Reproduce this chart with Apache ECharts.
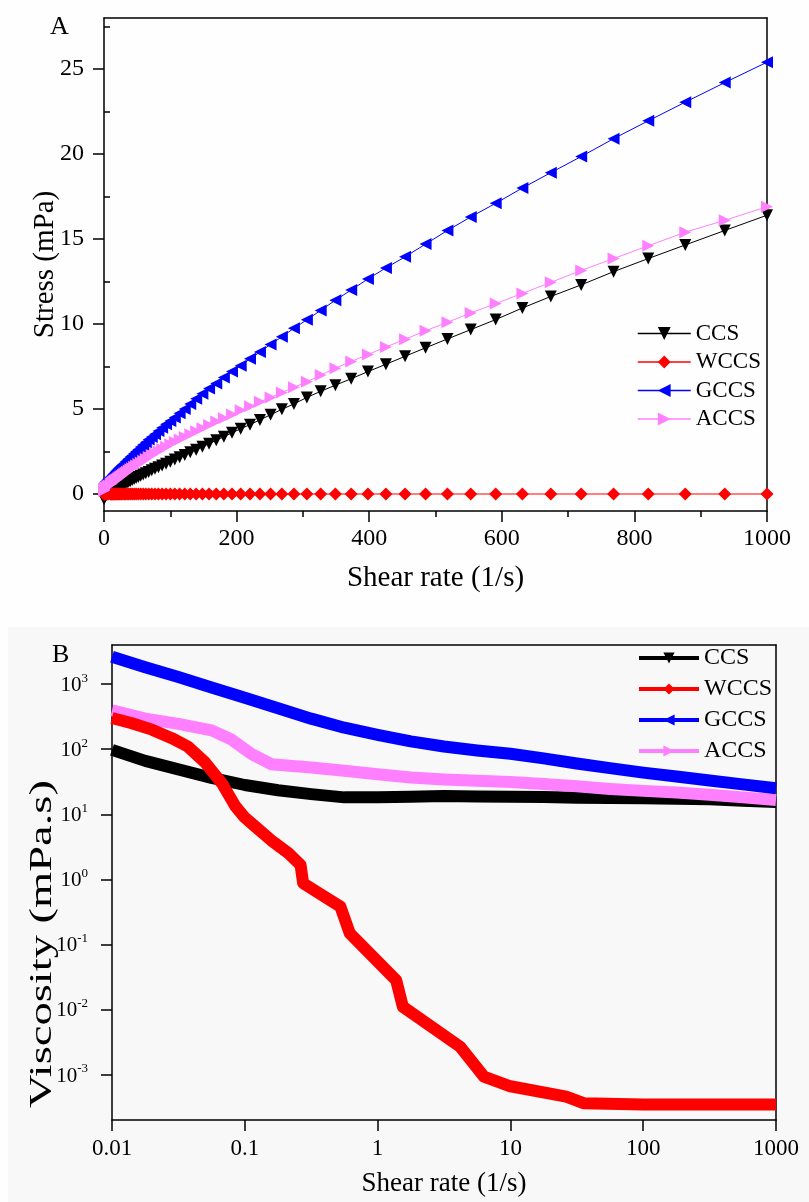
<!DOCTYPE html>
<html>
<head>
<meta charset="utf-8">
<script src="https://cdn.jsdelivr.net/npm/echarts@6/dist/echarts.min.js"></script>
<style>
html, body { margin: 0; padding: 0; background: #fefefe; }
#chart { width: 809px; height: 1202px; }
</style>
</head>
<body>
<div id="chart"></div>
<script>
const names = ['CCS', 'WCCS', 'GCCS', 'ACCS'];
const colors = ['#000000', '#ff0000', '#0000ff', '#ff80ff'];

// Panel A: stress vs shear rate (markers)
const rateA = [1000, 936.3, 876.7, 820.9, 768.6, 719.7, 673.9, 631.0, 590.8, 553.2, 518.0, 485.0,
  454.1, 425.2, 398.1, 372.8, 349.0, 326.8, 306.0, 286.5, 268.3, 251.2, 235.2, 220.2,
  206.2, 193.1, 180.8, 169.3, 158.5, 148.4, 139.0, 130.1, 121.8, 114.1, 106.8, 100,
  93.6, 87.7, 82.1, 76.9, 72.0, 67.4, 63.1, 59.1, 55.3, 51.8, 48.5, 45.4,
  42.5, 39.8, 37.3, 34.9, 32.7, 30.6, 28.7, 26.8, 25.1, 23.5, 22.0, 20.6,
  19.3, 18.1, 16.9, 15.8, 14.8, 13.9, 13.0, 12.2, 11.4, 10.7, 10,
  7, 5, 3, 2, 1, 0.5, 0.1, 0.01];
const stressCCS = [16.4, 15.5, 14.65, 13.85, 13.08, 12.3, 11.62, 10.94, 10.26, 9.67, 9.12, 8.6,
  8.1, 7.63, 7.2, 6.78, 6.4, 6.04, 5.68, 5.3, 4.98, 4.66, 4.36, 4.08,
  3.84, 3.6, 3.37, 3.16, 2.96, 2.78, 2.61, 2.45, 2.3, 2.16, 2.03, 1.9,
  1.78, 1.68, 1.58, 1.48, 1.39, 1.3, 1.22, 1.14, 1.07, 1.0, 0.94, 0.88,
  0.82, 0.77, 0.72, 0.67, 0.63, 0.58, 0.55, 0.51, 0.48, 0.44, 0.41, 0.38,
  0.35, 0.33, 0.3, 0.28, 0.25, 0.23, 0.21, 0.19, 0.17, 0.15, 0.13,
  0.05, 0, -0.08, -0.12, -0.18, -0.22, -0.28, -0.3];
const stressWCCS = [0, 0, 0, 0, 0, 0, 0, 0, 0, 0, 0, 0,
  0, 0, 0, 0, 0, 0, 0, 0, 0, 0, 0, 0,
  0, 0, 0, 0, 0, 0, 0, 0, 0, 0, 0, 0,
  0, 0, 0, 0, 0, 0, 0, 0, 0, 0, 0, 0,
  0, 0, 0, 0, 0, 0, 0, 0, 0, 0, 0, 0,
  0, 0, 0, 0, 0, 0, 0, 0, 0, 0, 0,
  0, 0, 0, 0, 0, 0, 0, 0];
const stressGCCS = [25.4, 24.2, 23.05, 21.95, 20.9, 19.85, 18.9, 18.0, 17.1, 16.3, 15.5, 14.7,
  13.95, 13.3, 12.65, 12.0, 11.4, 10.8, 10.25, 9.75, 9.25, 8.8, 8.35, 7.95,
  7.55, 7.2, 6.85, 6.5, 6.2, 5.9, 5.6, 5.3, 5.0, 4.75, 4.5, 4.3,
  4.1, 3.9, 3.7, 3.52, 3.36, 3.2, 3.05, 2.9, 2.76, 2.62, 2.5, 2.38,
  2.27, 2.17, 2.07, 1.98, 1.89, 1.81, 1.74, 1.67, 1.6, 1.54, 1.48, 1.42,
  1.37, 1.32, 1.27, 1.22, 1.18, 1.14, 1.1, 1.06, 1.03, 1.0, 0.98,
  0.9, 0.82, 0.75, 0.7, 0.65, 0.6, 0.55, 0.5];
const stressACCS = [16.9, 16.1, 15.4, 14.6, 13.85, 13.15, 12.45, 11.8, 11.2, 10.65, 10.1, 9.6,
  9.1, 8.65, 8.2, 7.8, 7.4, 7.0, 6.6, 6.28, 5.97, 5.68, 5.42, 5.16,
  4.92, 4.68, 4.46, 4.26, 4.06, 3.87, 3.69, 3.52, 3.36, 3.2, 3.06, 2.92,
  2.78, 2.64, 2.52, 2.4, 2.28, 2.17, 2.06, 1.96, 1.86, 1.77, 1.68, 1.6,
  1.52, 1.45, 1.38, 1.31, 1.25, 1.19, 1.13, 1.08, 1.03, 0.98, 0.94, 0.9,
  0.86, 0.82, 0.79, 0.76, 0.73, 0.7, 0.67, 0.64, 0.62, 0.6, 0.58,
  0.5, 0.45, 0.4, 0.35, 0.3, 0.25, 0.2, 0.2];

// Panel B: viscosity vs shear rate (log-log)
const rateB = [0.01, 0.0178, 0.0316, 0.0562, 0.1, 0.178, 0.316, 0.562, 1, 1.78, 3.16,
  5.62, 10, 17.8, 31.6, 56.2, 100, 178, 316, 562, 1000];
const viscCCS = [97.7, 66.1, 49.0, 36.3, 28.2, 23.4, 20.4, 18.2, 18.2, 18.6, 19.1,
  18.8, 18.6, 18.4, 18.0, 17.8, 17.6, 17.4, 17.0, 16.2, 15.5];
const viscGCCS = [2630, 1820, 1290, 891, 617, 427, 295, 214, 166, 132, 110,
  95.5, 85.1, 72.4, 60.3, 51.3, 43.7, 38.0, 33.1, 28.8, 25.1];
const rateACCS = [0.01, 0.0178, 0.0316, 0.0562, 0.0794, 0.112, 0.158, 0.316, 0.562, 1, 1.78,
  3.16, 5.62, 10, 17.8, 31.6, 56.2, 100, 178, 316, 562, 1000];
const viscACCS = [398, 295, 245, 195, 141, 85, 58.9, 52.5, 46.8, 41.2, 36.7,
  34.3, 32.7, 31.3, 29.2, 26.9, 24.5, 22.9, 21.6, 20.0, 18.2, 16.6];
const rateWCCS = [0.01, 0.0141, 0.02, 0.0282, 0.0372, 0.0501, 0.0676, 0.0851, 0.1, 0.12, 0.158,
  0.214, 0.263, 0.275, 0.525, 0.617, 1.38, 1.55, 4.17, 6.31, 10, 26.3, 35.5, 100, 1000];
const viscWCCS = [302, 251, 200, 148, 110, 63.1, 29.5, 13.2, 8.91, 6.46, 3.98,
  2.51, 1.66, 0.871, 0.38, 0.148, 0.0282, 0.011, 0.00269, 0.00093, 0.00066, 0.000457, 0.000363, 0.000347, 0.000347];

const ticksAY = [0, 5, 10, 15, 20, 25];
const minorAY = [2.5, 7.5, 12.5, 17.5, 22.5, 27.5];
const ticksBX = [0.01, 0.1, 1, 10, 100, 1000];
const ticksBY = [0.001, 0.01, 0.1, 1, 10, 100, 1000];

const symbols = [
  'path://M0,0L10,0L5,9Z',
  'diamond',
  'path://M0,5L9,0L9,10Z',
  'path://M9,5L0,0L0,10Z'
];
const FONT = 'Liberation Serif';

const pairs = (xs, ys) => xs.map((x, i) => [x, ys[i]]);
const stressA = [stressCCS, stressWCCS, stressGCCS, stressACCS];
const viscB = [[rateB, viscCCS], [rateWCCS, viscWCCS], [rateB, viscGCCS], [rateACCS, viscACCS]];
const zB = [2, 5, 4, 3];

const blackLine = { show: true, onZero: false, lineStyle: { color: '#000', width: 1.5 } };
const tickStyle = { color: '#000', width: 1.5 };

const series = [];
names.forEach((n, i) => {
  series.push({
    name: n, type: 'line', xAxisIndex: 0, yAxisIndex: 0,
    data: pairs(rateA, stressA[i]),
    symbol: symbols[i], symbolSize: i === 1 ? 13 : 12,
    showSymbol: true, animation: false,
    itemStyle: { color: colors[i] },
    lineStyle: { color: colors[i], width: 1 }
  });
});
names.forEach((n, i) => {
  series.push({
    name: n, type: 'line', xAxisIndex: 2, yAxisIndex: 3,
    data: pairs(viscB[i][0], viscB[i][1]),
    symbol: symbols[i], showSymbol: false, animation: false, z: zB[i],
    itemStyle: { color: colors[i] },
    lineStyle: { color: colors[i], width: 12, join: 'round', cap: 'butt' }
  });
});

const chart = echarts.init(document.getElementById('chart'), null, { renderer: 'canvas' });
chart.setOption({
  animation: false,
  textStyle: { fontFamily: FONT },
  grid: [
    { left: 104, top: 18, width: 663, height: 493 },
    { left: 112, top: 645, width: 664, height: 475 }
  ],
  graphic: [
    { type: 'rect', left: 8, top: 627, z: -10, shape: { width: 801, height: 575 }, style: { fill: '#f8f8f8' } },
    { type: 'text', left: 50, top: 14, style: { text: 'A', font: '26px "Liberation Serif"', fill: '#000' } },
    { type: 'text', left: 52, top: 642, style: { text: 'B', font: '26px "Liberation Serif"', fill: '#000' } },
    {
      type: 'text', x: 43, y: 944, rotation: Math.PI / 2, scaleX: 1.5, z: 10,
      style: { text: 'Viscosity (mPa.s)', font: '31px "Liberation Serif"', fill: '#000', align: 'center', verticalAlign: 'middle' }
    }
  ],
  legend: [
    {
      data: names, orient: 'vertical', left: 637, top: 322, padding: 0,
      itemWidth: 53, itemHeight: 16, itemGap: 5.5,
      selectedMode: false, lineStyle: { width: 1.5 },
      textStyle: { fontFamily: FONT, fontSize: 23, color: '#000' }
    },
    {
      data: names, orient: 'vertical', left: 637, top: 646, padding: 0,
      itemWidth: 60, itemHeight: 14, itemGap: 7,
      selectedMode: false, lineStyle: { width: 4 },
      textStyle: { fontFamily: FONT, fontSize: 24, color: '#000' }
    }
  ],
  xAxis: [
    {
      gridIndex: 0, type: 'value', min: 0, max: 1000, interval: 200,
      axisLine: blackLine,
      axisTick: { show: true, length: 11, lineStyle: tickStyle },
      minorTick: { show: true, splitNumber: 2, length: 6, lineStyle: tickStyle },
      splitLine: { show: false },
      axisLabel: { margin: 16, color: '#000', fontFamily: FONT, fontSize: 24, formatter: v => String(v) },
      name: 'Shear rate (1/s)', nameLocation: 'middle', nameGap: 53,
      nameTextStyle: { color: '#000', fontFamily: FONT, fontSize: 29 }
    },
    {
      gridIndex: 0, type: 'value', position: 'top', min: 0, max: 1000,
      axisLine: blackLine, axisTick: { show: false }, axisLabel: { show: false }, splitLine: { show: false }
    },
    {
      gridIndex: 1, type: 'log', logBase: 10, min: 0.01, max: 1000,
      axisLine: blackLine,
      axisTick: { show: true, length: 11, lineStyle: tickStyle, customValues: ticksBX },
      minorTick: { show: false },
      splitLine: { show: false },
      axisLabel: {
        margin: 17, color: '#000', fontFamily: FONT, fontSize: 23, customValues: ticksBX,
        formatter: v => String(ticksBX.find(t => Math.abs(Math.log10(t) - Math.log10(v)) < 1e-6) ?? v)
      },
      name: 'Shear rate (1/s)', nameLocation: 'middle', nameGap: 50,
      nameTextStyle: { color: '#000', fontFamily: FONT, fontSize: 27 }
    },
    {
      gridIndex: 1, type: 'value', position: 'top', min: 0, max: 1,
      axisLine: blackLine, axisTick: { show: false }, axisLabel: { show: false }, splitLine: { show: false }
    }
  ],
  yAxis: [
    {
      gridIndex: 0, type: 'value', min: -1, max: 28,
      axisLine: blackLine,
      axisTick: { show: true, length: 11, lineStyle: tickStyle, customValues: ticksAY },
      splitLine: { show: false },
      axisLabel: { margin: 20, color: '#000', fontFamily: FONT, fontSize: 24, customValues: ticksAY },
      name: 'Stress (mPa)', nameLocation: 'middle', nameGap: 44, nameMoveOverlap: false,
      nameTextStyle: { color: '#000', fontFamily: FONT, fontSize: 29 }
    },
    {
      gridIndex: 0, type: 'value', min: -1, max: 28,
      axisLine: { show: false },
      axisTick: { show: true, length: 6, lineStyle: tickStyle, customValues: minorAY },
      axisLabel: { show: false }, splitLine: { show: false }
    },
    {
      gridIndex: 0, type: 'value', position: 'right', min: -1, max: 28,
      axisLine: blackLine, axisTick: { show: false }, axisLabel: { show: false }, splitLine: { show: false }
    },
    {
      gridIndex: 1, type: 'log', logBase: 10, min: 0.0002, max: 4000,
      axisLine: blackLine,
      axisTick: { show: true, length: 11, lineStyle: tickStyle, customValues: ticksBY },
      minorTick: { show: false },
      splitLine: { show: false },
      axisLabel: {
        margin: 24, color: '#000', fontFamily: FONT, customValues: ticksBY,
        formatter: v => '{n|10}{s|' + Math.round(Math.log10(v)) + '}',
        rich: {
          n: { fontFamily: FONT, fontSize: 21, color: '#000', lineHeight: 24, verticalAlign: 'bottom' },
          s: { fontFamily: FONT, fontSize: 13, color: '#000', lineHeight: 24, verticalAlign: 'top' }
        }
      }
    },
    {
      gridIndex: 1, type: 'value', position: 'right', min: 0, max: 1,
      axisLine: blackLine, axisTick: { show: false }, axisLabel: { show: false }, splitLine: { show: false }
    }
  ],
  series: series
});
</script>
</body>
</html>
